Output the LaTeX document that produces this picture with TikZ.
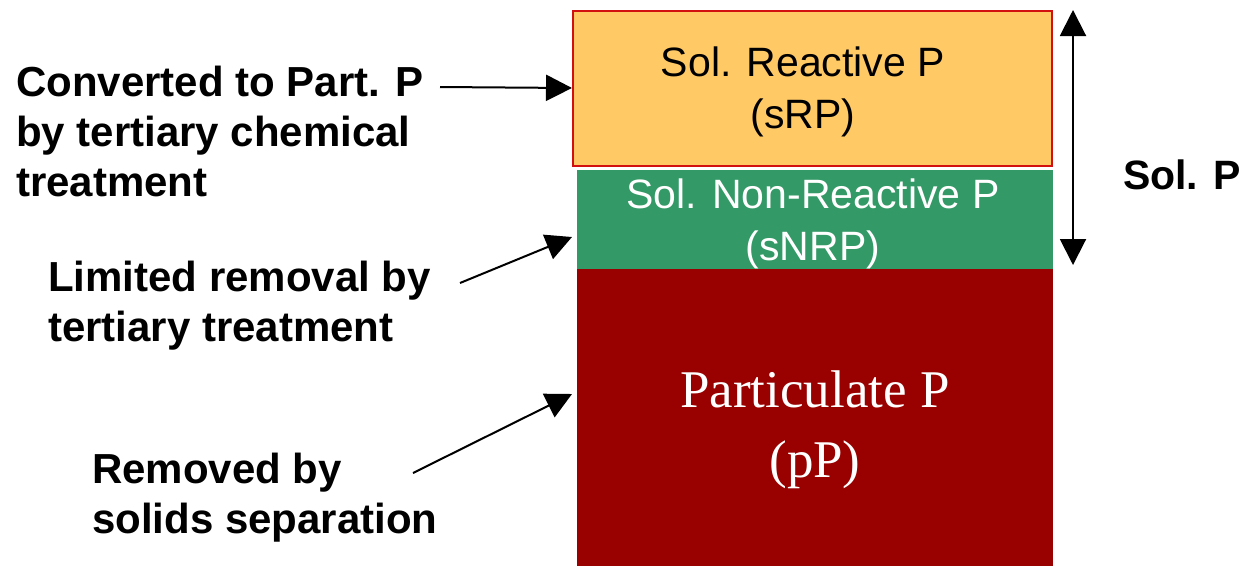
\documentclass[tikz,border=0pt]{standalone}
\usepackage{fontspec}
\setmainfont{Liberation Sans}
\newfontfamily\serifP{Liberation Serif}
\usetikzlibrary{arrows.meta}
\definecolor{boxorange}{RGB}{255,201,102}
\definecolor{boxborder}{RGB}{210,16,16}
\definecolor{boxgreen}{RGB}{51,153,102}
\definecolor{boxdark}{RGB}{153,0,0}
\tikzset{
  layer/.style={inner sep=0pt, outer sep=0pt},
  lbl/.style={inner sep=0pt, align=left, anchor=west, font=\fontsize{42}{50}\selectfont\bfseries},
  boxtxt/.style={inner sep=0pt, align=center, font=\fontsize{41}{52}\selectfont},
  pointer/.style={line width=2pt, -{Triangle[width=26pt,length=26pt]}},
  span/.style={line width=2pt, {Triangle[width=26pt,length=26pt]}-{Triangle[width=26pt,length=26pt]}}
}
\begin{document}
\begin{tikzpicture}[x=1pt,y=-1pt]
\useasboundingbox (0,0) rectangle (1247,566);
% layers
\node[layer, draw=boxborder, line width=2pt, fill=boxorange, minimum width=479pt, minimum height=155pt] (orange) at (812.5,88.5) {};
\node[layer, fill=boxgreen, minimum width=476pt, minimum height=99pt] (green) at (815,219.5) {};
\node[layer, fill=boxdark, minimum width=476pt, minimum height=297pt] (dark) at (815,417.5) {};
% layer texts
\node[boxtxt] (srp) at (803,91.5) {Sol. Reactive P\\(sRP)};
\node[boxtxt, text=white] (snrp) at (813,224) {Sol. Non-Reactive P\\(sNRP)};
\node[inner sep=0pt, align=center, text=white, font=\fontsize{53}{70}\selectfont\serifP] (pp) at (815,430) {Particulate P\\(pP)};
% left labels
\node[lbl] (l1) at (16,131) {Converted to Part. P\\by tertiary chemical\\treatment};
\node[lbl] (l2) at (48,306) {Limited removal by\\tertiary treatment};
\node[lbl] (l3) at (92,498) {Removed by\\solids separation};
% right label
\node[inner sep=0pt, font=\fontsize{41}{50}\selectfont\bfseries] (solp) at (1182,175) {Sol. P};
% arrow ends
\coordinate (t1) at (440,87);
\coordinate (h1) at (572,88);
\coordinate (t2) at (460,283);
\coordinate (h2) at (572,237);
\coordinate (t3) at (413,473);
\coordinate (h3) at (572,394);
\coordinate (s1) at (1073,10);
\coordinate (s2) at (1073,265);
\draw[pointer] (t1) -- (h1);
\draw[pointer] (t2) -- (h2);
\draw[pointer] (t3) -- (h3);
\draw[span] (s1) -- (s2);
\end{tikzpicture}
\end{document}
